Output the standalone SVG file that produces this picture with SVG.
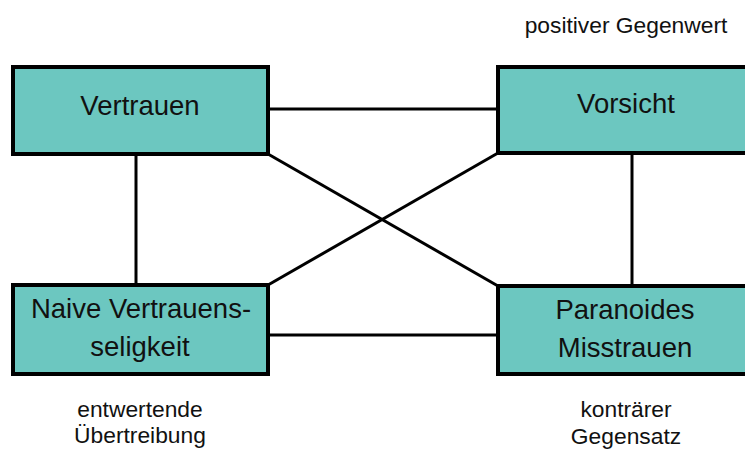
<svg xmlns="http://www.w3.org/2000/svg" width="745" height="450" viewBox="0 0 745 450">
<style>
.box{fill:#6CC7C0;stroke:#000;stroke-width:4}
.t{font-family:"Liberation Sans",Arial,sans-serif;font-size:27.5px;fill:#111;text-anchor:middle}
.l{font-family:"Liberation Sans",Arial,sans-serif;font-size:22.8px;fill:#111;text-anchor:middle}
.c{stroke:#000;stroke-width:3;fill:none}
</style>
<rect width="745" height="450" fill="#fff"/>
<g id="connectors">
<line class="c" x1="268" y1="109" x2="498" y2="109"/>
<line class="c" x1="268" y1="335" x2="498" y2="335"/>
<line class="c" x1="136" y1="154" x2="136" y2="285"/>
<line class="c" x1="632" y1="153" x2="632" y2="286"/>
<line class="c" x1="268" y1="154" x2="498" y2="286"/>
<line class="c" x1="268" y1="285" x2="498" y2="153"/>
</g>
<g id="vertrauen">
<rect class="box" x="13" y="67" width="255" height="87"/>
<text class="t" x="140" y="115">Vertrauen</text>
</g>
<g id="vorsicht">
<rect class="box" x="498" y="67" width="256" height="86"/>
<text class="t" x="626" y="113">Vorsicht</text>
</g>
<g id="naive">
<rect class="box" x="13" y="285" width="255" height="89"/>
<text class="t" x="141" y="318">Naive Vertrauens-</text>
<text class="t" x="140" y="356">seligkeit</text>
</g>
<g id="paranoides">
<rect class="box" x="498" y="286" width="256" height="88"/>
<text class="t" x="625" y="319">Paranoides</text>
<text class="t" x="625" y="357">Misstrauen</text>
</g>
<g id="labels">
<text class="l" x="626" y="33">positiver Gegenwert</text>
<text class="l" x="140" y="417">entwertende</text>
<text class="l" x="140" y="443">Übertreibung</text>
<text class="l" x="626" y="417">konträrer</text>
<text class="l" x="626" y="444">Gegensatz</text>
</g>
</svg>
